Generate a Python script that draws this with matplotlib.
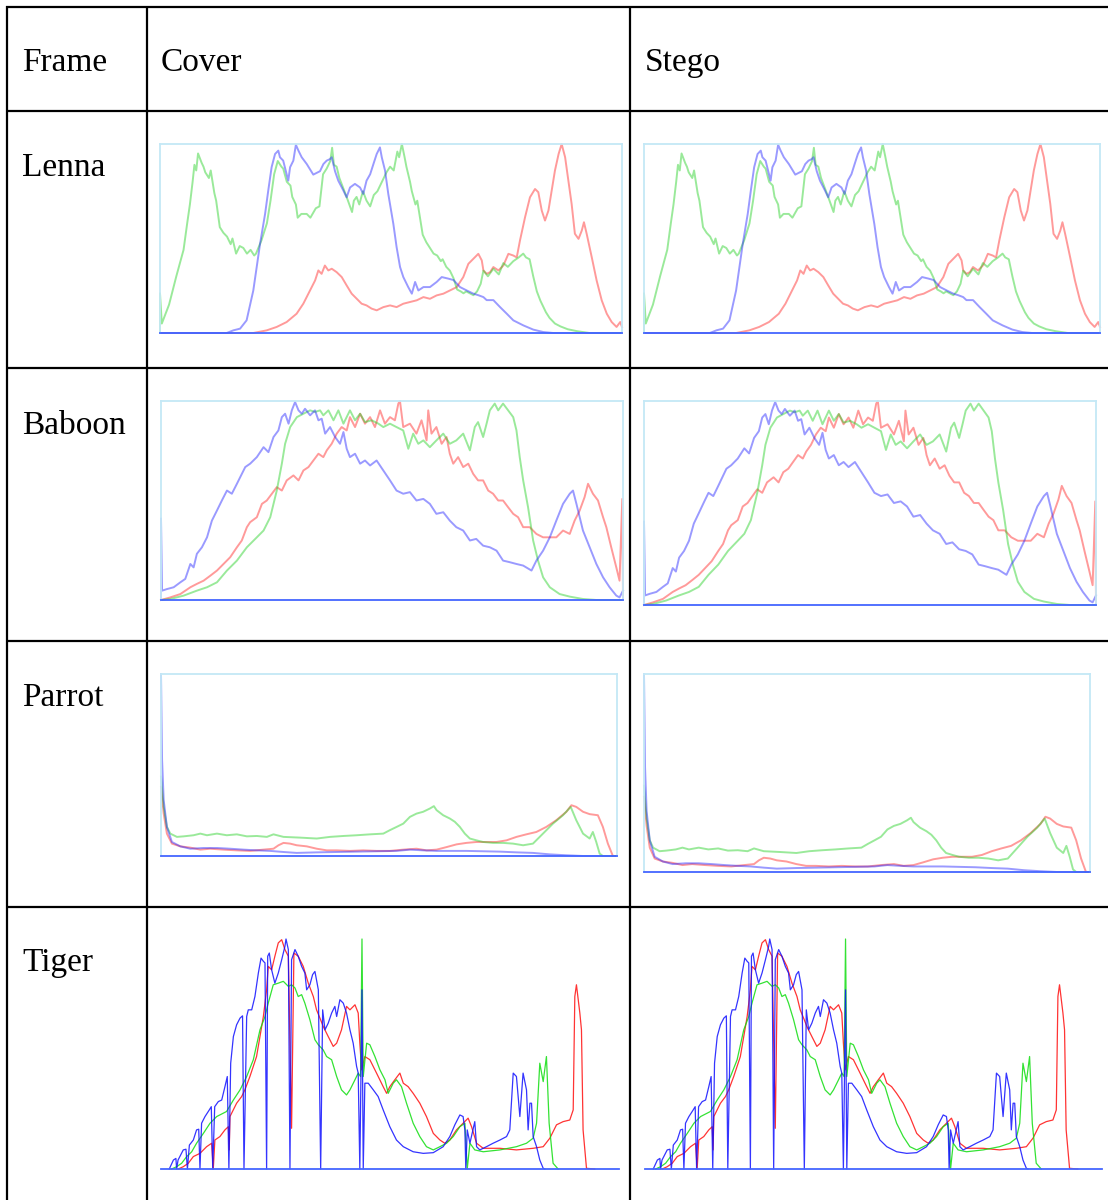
import matplotlib
matplotlib.use('Agg')
import matplotlib.pyplot as plt

# ── histogram data: (intensity bin, relative count %) ──
lenna_red = [(0,0),(51.5,0),(58.9,1.4),(64.4,3.2),(69.9,5.8),(75.4,10.2),(79.1,15.5),(82.8,22.5),(85.6,27.8),
             (87.4,33.1),(89.2,31.3),(91,35.7),(92.9,33.1),(94.8,34),(97.5,32.2),(100.3,29.6),(103,25.2),
             (105.8,20.8),(108.6,18.1),(111.3,15.5),(114,14.6),(116.8,12.9),(119.6,12),(123.3,13.7),(127,14.6),
             (130.6,13.7),(134.3,15.5),(138,16.4),(141.7,17.3),(145.4,19),(149,18.1),(152.7,19.9),(156.4,20.8),
             (160,22.5),(163.8,24.3),(167.4,29.6),(170.2,36.6),(173,39.3),(175.7,41.9),(177.6,38.4),(178.5,33.1),
             (180.3,31.3),(182.2,32.2),(184,34.9),(186.8,33.1),(189.5,35.7),(192.3,41.9),(195,41),(196.9,40),
             (198.7,49),(201.5,61.3),(204.2,71.8),(207,76.2),(208.8,74.5),(210.7,64.8),(212.5,59.5),(214.4,64.8),
             (216.2,75.4),(218,86),(220,94.7),(221.7,100),(223.6,93),(225.4,80.6),(227.2,68.3),(229,52.5),
             (231,49.8),(232.8,54.2),(234,58.6),(235.5,52.5),(238.3,40.1),(241,27.8),(243.8,17.3),(246.6,10.2),
             (249.3,5.8),(252,3.2),(254,5.8),(255,3.2)]
lenna_green = [(0,0),(0,21),(1,5),(5,15),(9,30),(13,44),(15,58),(16.5,68),(18,80),(19,89),(20,86),(21,95),(23,90),
               (24,88),(25,85),(27,82),(28,86),(30,74),(31,70),(33,56),(35,53),(37,51),(39,47),(40,50),(42,42),
               (44,46),(46,45),(48,42),(50,44),(52,41),(53,42),(56,49),(59,58),(61,70),(63,84),(65,91),(67,88),
               (68,87),(70,80),(72,78),(73,72),(75,68),(76,61),(78,63),(81,63),(83,61),(86,66),(88,67),(90,84),
               (92,87),(94,91),(95,98),(96,89),(97.5,88),(99,82),(101,77),(103,72),(106,64),(107,70),(108.5,72),
               (110,68),(112,75),(114,70),(116,67),(118,73),(120,75),(122,79),(123,81),(125,85),(127,88),(129,86),
               (131,96),(132,93),(133.5,100),(135,93),(136,88),(138,80),(139,75),(141,68),(142,70),(145,52),
               (147,48),(149,45),(151,42),(153,41),(155,38),(156,39),(158,35),(160,33),(162,29),(164,23),(166,22),
               (167.5,21),(169,22),(171,21),(173,20),(175,22),(177,26),(178.5,33),(181,30),(184,34),(187,31),
               (189.5,37),(192,35),(195,38),(198,40),(200.5,42),(202,40),(204,39),(206,30),(208,22),(210,17),
               (211.5,14),(213,11),(215,8),(218,5),(221,3.5),(225,2),(230,1),(237,0),(255,0)]
lenna_blue = [(0,0),(36.8,0),(40.5,1.4),(44.2,2.3),(47.8,6.7),(51.5,22.5),(55.2,47),(58,63),(59.8,75.7),
              (61.6,87.7),(63.5,94.7),(65.3,96.5),(66.2,93),(68,91.2),(69.9,84),(70.8,80.6),(71.8,87.7),
              (73.6,91.2),(75,99.6),(76.4,96.5),(78.2,93),(81,89.4),(84.6,83.8),(88.3,85.6),(90.2,89.4),
              (92,91.2),(93.8,92),(94.8,93),(96.6,85.6),(98.4,80.6),(101.2,75.4),(103,71.8),(104.9,77),
              (107.6,78.9),(110.4,77),(112.2,73.6),(114,80.6),(116,84),(117.8,89.4),(119.6,94.7),(121.4,98.2),
              (122.4,93),(124.2,86),(126,73.6),(128.8,57.7),(130.6,45.4),(132.5,34.9),(134.3,29.6),(137,24.3),
              (139,20.8),(140.8,27),(142.6,22.5),(145.4,24.3),(149,24.3),(152.7,27),(155.5,29.6),(159,28.8),
              (162,28),(165.6,24.3),(169.3,22.5),(173,20.8),(175.7,20),(178.5,19),(180.3,17.4),(184,17.4),
              (187.7,13.7),(191.4,10.2),(195,6.7),(200.6,4),(206,1.8),(211.6,0.5),(217,0),(255,0)]

baboon_red = [(0,0),(5.1,1.3),(10.7,3),(16.2,6.4),(19.8,8.1),(23.5,9.7),(27.2,12.2),(30.9,14.8),(34.5,18.1),
              (38.2,21.5),(41.9,26.5),(44.6,29.9),(47.4,36.6),(49.2,39.1),(52.9,41.6),(55.7,48.3),(58.4,50),
              (61.2,53.4),(63.9,56.7),(66.7,55),(69.4,60.1),(73.1,62.6),(75.9,60.1),(78.6,65.1),(81.4,66.8),
              (84.1,70.1),(86.9,73.5),(89.6,71.8),(91.5,75.2),(94.2,78.5),(97,83.6),(99.7,86.9),(102.5,85.2),
              (104.3,91.9),(107.1,86.9),(109.9,93.6),(112.6,88.6),(115.4,91.9),(118.1,86.9),(120.9,95.3),
              (123.6,88.6),(126.4,91.9),(129.1,90.3),(131,98.7),(131.9,100),(133.7,86.9),(137.4,88.6),(141,83.6),
              (143.8,90.3),(146.6,80.2),(147.5,95.3),(149.3,83.6),(152,86.9),(154.9,78.5),(157.6,81.9),
              (159.4,73.5),(161.3,68.5),(164,71.8),(166.8,66.8),(169.6,68.5),(172.3,63.4),(175,60.1),(177.8,60.1),
              (180.6,55),(183.3,53.4),(186.1,50),(188.8,50),(191.6,46.6),(194.4,43.3),(197.1,41.6),(199.9,36.6),
              (203.5,36.6),(207.2,33.2),(210.9,31.5),(214.6,31.5),(218.2,31.5),(221.9,34.9),(225.6,33.2),
              (228.3,39.9),(231.1,45),(233.8,51.7),(235.7,58.4),(238.4,53.4),(241.2,50),(244,41.6),(245.8,36.6),
              (248.5,26.5),(251.3,16.4),(253.1,9.7),(254.6,50.8),(255,0)]
baboon_green = [(0,0),(5.1,0.5),(12.5,2.2),(19.8,4.7),(25.4,6.4),(30.9,8.9),(36.4,14.8),(41.9,19.8),(47.4,26.5),
                (52.9,31.5),(56.6,34.9),(60.3,41.6),(63.9,55),(66.7,68.5),(68.5,78.5),(71.3,86.9),(75,91.9),
                (78.6,93.6),(82.3,95.3),(85,94.5),(87.8,95.3),(89.6,92.8),(92.4,95.3),(95.2,90.3),(97.9,95.3),
                (100.7,88.6),(104.3,95.3),(107.1,90.3),(109.9,93.6),(112.6,89.4),(116.3,90.3),(120,88.6),
                (122.7,86.9),(126.4,88.6),(130,86.9),(133.7,85.2),(136.5,76),(139.2,83.6),(142,78.5),(144.8,80.2),
                (148.4,76.8),(152,80.2),(155.8,83.6),(159.4,78.5),(163,80.2),(166.8,83.6),(170.5,75.2),(173.2,86.9),
                (175,89.4),(177.8,81.9),(179.7,88.6),(181.5,95.3),(184.2,98.7),(186.1,95.3),(188.8,98.7),
                (191.6,95.3),(194.4,91.9),(196.2,85.2),(198,71.8),(199.9,60.1),(202.6,46.6),(205.4,29.9),
                (208.1,19.8),(210.9,11.4),(214.6,6.4),(220,3),(225.6,1.7),(233,0.5),(240.3,0),(255,0)]
baboon_blue = [(0,0),(0,41),(0.6,4.7),(3.3,5.5),(7,6.4),(10.7,8.9),(13.4,10.6),(16.2,18.1),(18,16.4),(19.8,23.2),
               (22.6,26.5),(25.4,31.5),(28.1,39.9),(30.9,45),(33.6,50),(36.4,55),(39.1,53.4),(41.9,58.4),
               (43.7,61.7),(46.5,66.8),(49.2,68.5),(52.9,71.8),(56.6,76.8),(59.3,74.3),(62.1,81.9),(64.8,85.2),
               (66.7,91.9),(68.5,93.6),(70.4,88.6),(72.2,95.3),(74,99.5),(75.9,95.3),(77.7,93.6),(79.5,96.1),
               (82.3,92.8),(85,95.3),(86.9,90.3),(88.7,91.1),(90.6,83.6),(93.3,86.9),(96.1,81.9),(98.8,78.5),
               (100.7,84.4),(102.5,76),(104.3,71.8),(107.1,73.5),(109.9,68.5),(112.6,70.1),(115.4,67.6),(119,70.1),
               (122.7,65.1),(126.4,60.1),(130,55),(133.7,53.4),(137.4,54.2),(141,50),(144.8,50.8),(148.4,48.3),
               (152,43.3),(155.8,44.1),(159.4,39.9),(163,36.6),(166.8,34.9),(170.5,29.9),(174,30.7),(177.8,27.3),
               (181.5,26.5),(185.2,24.8),(188.8,19.8),(192.5,19),(196.2,18.1),(199.9,17.3),(204.5,14.8),
               (207.2,19.8),(210.9,24.8),(214.6,31.5),(218.2,39.9),(221.9,48.3),(225.6,53.4),(227.4,55),
               (229.3,48.3),(232.9,34.9),(236.6,26.5),(240.3,18.1),(244,11.4),(247.6,6.4),(251.3,2.2),(253.1,1.3),
               (255,4.7)]

parrot_red = [(0,38),(1.5,23.3),(3.3,12.3),(6.1,6.8),(10.8,5.3),(16.4,4.6),(22,3.5),(27.5,4),(35,3.5),(42.4,3.1),
              (49.9,2.8),(57.3,3.5),(62.9,4),(65.7,5.9),(68.5,7.2),(72.2,6.8),(75.9,5.9),(81.5,5.3),(87.1,4),
              (92.7,3.1),(98.3,3.1),(105.7,2.8),(113.1,3.1),(120.6,2.8),(128,2.8),(135.5,3.5),(142.9,4),
              (148.5,3.1),(154.1,3.5),(159.7,4.9),(165.3,6.4),(170.8,7.2),(176.4,7.7),(182,7.7),(187.6,7.7),
              (193.2,8.6),(198.8,10.5),(204.3,11.9),(209.9,13.2),(215.5,16),(221.1,19.7),(226.7,24.3),
              (229.5,27.9),(232.2,27),(236,24.3),(239.7,23),(244.3,22.4),(247.1,16),(249.9,6.8),(252.7,0),(255,0)]
parrot_green = [(0,43.6),(1.5,27),(3.3,16),(5.2,12.3),(8.9,10.5),(12.7,10.8),(18.2,11.4),(22,12.3),(25.7,11.4),
                (31.3,12.3),(36.8,11.4),(42.4,11.9),(48,10.8),(53.6,11),(59.2,10.5),(62.9,11.9),(68.5,10.5),
                (77.8,10.1),(87.1,9.6),(94.5,10.5),(102,11),(109.4,11.4),(116.9,11.9),(124.3,12.3),(128,14.2),
                (131.8,16),(135.5,17.8),(139.2,21.5),(142.9,23.3),(146.6,24.3),(150.4,26.1),(152.6,27.4),
                (154.1,25.2),(157.8,22.4),(161.5,20.6),(164.3,18.8),(167.1,16),(169.9,12.3),(172.7,9.6),
                (176.4,8.6),(180.1,7.7),(185.7,7.2),(191.3,7.2),(196.9,6.8),(202.5,5.9),(208,6.8),(213.6,12.3),
                (219.2,17.8),(224.8,22.4),(229.1,27),(232.2,19.7),(236,12.3),(239.7,9.6),(241.5,13.2),(243.4,7.7),
                (245.3,1.3),(247.1,0),(255,0)]
parrot_blue = [(0,100),(0.6,52.8),(1.5,30.7),(3.3,16),(6.1,7.7),(10.8,5.3),(16.4,4),(23.8,4.4),(31.3,4.4),
               (38.7,4),(46.2,3.5),(53.6,3.1),(61,2.8),(68.5,2.2),(75.9,1.7),(87.1,2),(98.3,2.2),(109.4,2.4),
               (120.6,2.6),(131.8,2.8),(139.2,3.5),(146.6,3.1),(154.1,2.8),(161.5,2.8),(170.8,2.8),(180.1,2.6),
               (189.5,2.4),(198.8,2),(208,1.7),(217.4,0.9),(226.7,0.4),(236,0),(255,0)]

tiger_red = [(9.6,0),(12.4,1),(15.2,2.5),(18,5.4),(21.7,6.8),(25.4,9.7),(28.2,11.2),(29.1,0),(30,12.6),(32.8,14.1),
             (35.6,17),(37.5,18.4),(38,8.3),(38.4,22.8),(42.1,28.6),(44.9,31.5),(46.7,34.4),(49.5,40.2),(53.2,48.9),
             (57,66.3),(58.8,77.9),(59.7,88.1),(61.6,86.6),(63.4,92.5),(65.3,98.3),(67.2,99.7),(69,95.4),
             (70.9,92.5),(72.7,17.7),(74,93.9),(76.4,92.5),(79.2,88.1),(82,80.8),(84.8,75),(86.6,69.2),(88.5,65.6),
             (90.3,62),(93.1,57.6),(95.9,53.3),(97.8,54.7),(100.5,60.5),(103.3,70.7),(105.2,69.2),(108,71.4),
             (109.8,67.8),(110.7,54.7),(111.7,43.1),(113.5,48.9),(116.3,47.5),(120,41.7),(123.7,35.8),
             (125.6,32.9),(127.4,35.8),(130.2,38.8),(133,41.7),(134.9,37.3),(137.6,35.8),(140.4,32.9),
             (144.1,28.6),(147.8,22.8),(151.6,15.5),(155.3,12.6),(158,11.2),(160.8,12.6),(164.5,17),(168.2,19.9),
             (171,22.1),(172.9,18.4),(175.7,11.2),(179.4,9),(188.7,9),(197.9,8.3),(207.2,9),(212.8,9.7),
             (216.5,13.4),(220.2,19.2),(223.9,20.6),(227.6,21.3),(229.5,25.7),(230.4,75),(231.3,80.1),
             (233.2,67.8),(234.1,60.5),(235,17),(236.9,0.3),(241.5,0)]
tiger_green = [(5.9,0),(8.7,1),(11.5,2.5),(14.3,5.4),(17.1,7.5),(19.8,11.2),(23.6,15.5),(27.3,19.9),(31,22.8),
               (36.5,25),(40.3,30),(44,34.4),(47.7,40.2),(51.4,47.5),(55.1,60.5),(57.9,66.3),(59.7,72.1),
               (62.5,80.1),(65.3,80.8),(68.1,81.6),(70.9,79.4),(72.7,80.1),(74.6,78.7),(76.4,75),(78.3,75.8),
               (80.1,72.1),(82.9,64.9),(85.7,56.2),(87.6,54),(90.3,51.8),(92.2,48.9),(95,47.5),(97.8,40.2),
               (100.5,34.4),(103.3,32.2),(105.2,34.4),(108,38.8),(109.8,41.7),(111.1,40.2),(111.9,100),
               (112.6,40.2),(114.5,54.7),(116.3,54),(119.1,48.9),(121.9,43.1),(124.7,38.8),(126.5,32.9),
               (129.3,37.3),(131.1,38.8),(133.9,35.8),(136.7,28.6),(140.4,19.9),(144.1,14.1),(147.8,9.7),
               (151.6,8.3),(155.3,9.7),(159,11.2),(162.7,14.1),(166.4,18.4),(169.2,19.9),(170.5,0),(172,11.2),
               (174.7,8.3),(179.4,7.5),(188.7,8.3),(197.9,9.7),(203.5,11.2),(207.2,13.4),(209.1,19.9),(210.9,46),
               (212.8,38),(214.6,48.9),(216.1,19.9),(218.3,2.5),(221.1,0)]
tiger_blue = [(4.6,0),(6.9,3.9),(8.3,4.6),(8.7,0),(9.5,3.9),(12.4,8.3),(13.9,8.6),(14.7,0),(15.8,10.4),(18,12.6),
              (19.8,17),(21,17.3),(21.7,0),(22.6,19.9),(24.5,22.8),(26.9,25.7),(28,27.1),(28.8,0),(29.9,27.1),
              (31.9,29.3),(33.8,30),(35.6,35.8),(36.9,40.2),(37.8,0),(38.8,46),(40.3,57.6),(42.1,62.7),(44,65.6),
              (45.4,66.6),(46.2,0),(47.7,66.3),(48.6,69.2),(50.5,69.2),(52.3,75),(54.2,85.2),(55.7,91.7),(57,90.3),
              (57.9,89.6),(58.8,0),(59.4,92.5),(60.3,93.9),(61.6,86.6),(63.4,80.8),(65.3,85.2),(67.2,91),(69,96.8),
              (69.6,100),(70.9,95.4),(71.8,0),(72.7,91),(74.6,95.4),(76.4,92.5),(78.3,88.1),(80.1,85.2),
              (81.1,77.9),(82.9,80.1),(84.4,84.5),(85.7,85.9),(87.6,77.9),(88.9,0),(90,69.2),(91.3,60.5),
              (93.1,63.4),(95,67.8),(96.8,70.7),(97.8,66.3),(99.6,73.6),(101.5,72.1),(103.3,67.8),(105.2,60.5),
              (107,54.7),(108.9,44.6),(109.8,41.7),(110.7,0),(111.9,77.9),(112.6,0),(113.5,37.3),(115.4,37.3),
              (118.2,34.4),(120.9,31.5),(123.7,25.7),(127.4,18.4),(131.1,12.6),(134.9,9.7),(140.4,7.5),(146,6.8),
              (151.6,7.1),(157.1,9.7),(160.8,14.1),(163.6,19.2),(166.4,23.5),(168.2,22.8),(169.2,17),(169.7,0),
              (170.5,17),(172,11.2),(174.7,20.6),(175.7,9.7),(177.5,8.3),(181.2,9.7),(184.9,11.2),(188.7,12.6),
              (192.4,14.1),(194.2,17),(196.1,41.7),(197.9,40.2),(199.8,22.8),(201.6,41.7),(203.5,34.4),
              (204.4,17),(205.4,28.6),(206.3,28.6),(207.2,14.1),(209.1,9.7),(210.9,3.9),(212.8,0.3),(213.7,0)]

row_names = ['Lenna', 'Baboon', 'Parrot', 'Tiger']
col_names = ['Frame', 'Cover', 'Stego']
histograms = {
    'Lenna': (lenna_red, lenna_green, lenna_blue),
    'Baboon': (baboon_red, baboon_green, baboon_blue),
    'Parrot': (parrot_red, parrot_green, parrot_blue),
    'Tiger': (tiger_red, tiger_green, tiger_blue),
}

# ── layout (pixels) ─────────────────────────────────────────────────────────
W, H = 1108, 1200
fig = plt.figure(figsize=(W / 100, H / 100), dpi=100)
fig.patch.set_facecolor('white')
bg = fig.add_axes([0, 0, 1, 1])
bg.set_xlim(0, W); bg.set_ylim(H, 0)
bg.axis('off')

line_kw = dict(color='black', lw=1.6, solid_capstyle='butt')
bg.plot([6, W], [6.5, 6.5], **line_kw)
for y in [111, 368, 641, 907]:
    bg.plot([6, W], [y, y], **line_kw)
for x in [7, 147, 630]:
    bg.plot([x, x], [6, H], **line_kw)

font = dict(family=['Liberation Serif', 'DejaVu Serif'], fontsize=24, color='black')
for x, name in zip([22, 161, 645], col_names):
    bg.text(x, 63, name, ha='left', va='center', **font)
for y, name in zip([168, 426, 698, 963], row_names):
    bg.text(22, y, name, ha='left', va='center', **font)

# panel rectangles: left, top, right, bottom
panels = {
    ('Lenna', 'Cover'): (160, 144, 622, 333),
    ('Lenna', 'Stego'): (644, 144, 1100, 333),
    ('Baboon', 'Cover'): (161, 401, 623, 600),
    ('Baboon', 'Stego'): (644, 401, 1096, 605),
    ('Parrot', 'Cover'): (161, 674, 617, 856),
    ('Parrot', 'Stego'): (644, 674, 1090, 872),
    ('Tiger', 'Cover'): (161, 939, 619, 1169),
    ('Tiger', 'Stego'): (645, 939, 1102, 1169),
}

for (name, col), (l, t, r, b) in panels.items():
    ax = fig.add_axes([l / W, 1 - b / H, (r - l) / W, (b - t) / H])
    ax.set_xlim(0, 255); ax.set_ylim(0, 100)
    ax.set_xticks([]); ax.set_yticks([])
    ax.patch.set_alpha(0)
    red, green, blue = histograms[name]
    if name == 'Tiger':
        cols, alpha, lw = ('#ff1010', '#10dd10', '#1010ff'), 0.85, 0.9
        for s in ['top', 'left', 'right']:
            ax.spines[s].set_visible(False)
    else:
        cols, alpha, lw = ('#ff2020', '#20d020', '#2020ff'), 0.45, 1.4
        for s in ['top', 'left', 'right']:
            ax.spines[s].set_color('#c4e8f6')
            ax.spines[s].set_linewidth(1.3)
    ax.spines['bottom'].set_color('#4466ff')
    ax.spines['bottom'].set_linewidth(1.3)
    for series, c in zip((red, green, blue), cols):
        xs = [p[0] for p in series]
        ys = [p[1] for p in series]
        ax.plot(xs, ys, color=c, alpha=alpha, lw=lw, clip_on=False)

plt.savefig('out.png', dpi=100, facecolor='white')
plt.close()
